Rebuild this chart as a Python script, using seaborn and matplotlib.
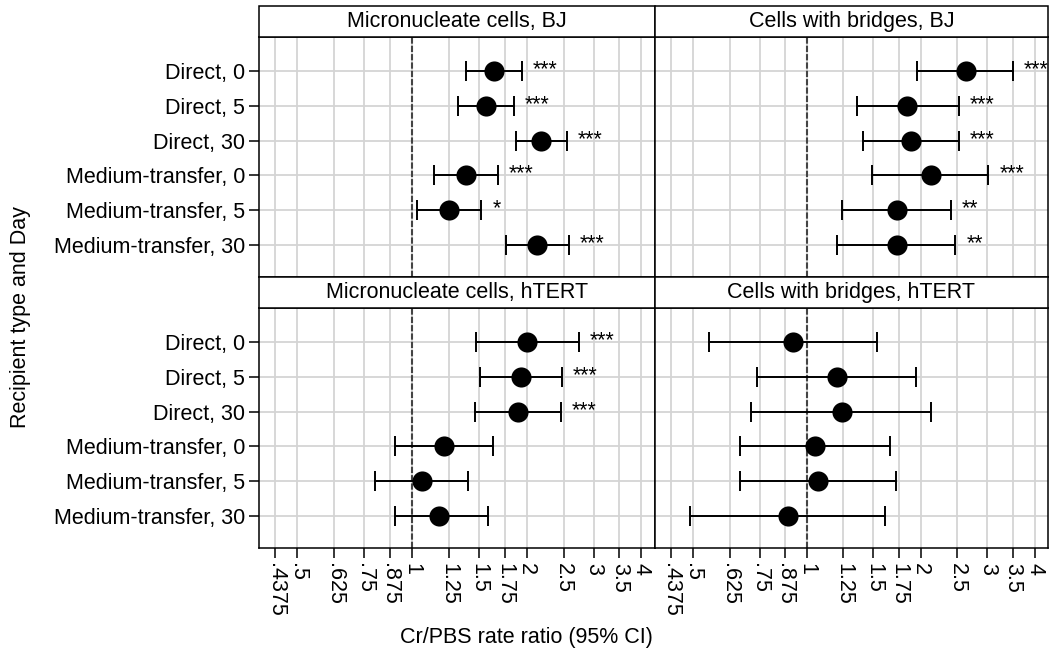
import numpy as np
import pandas as pd
import matplotlib
matplotlib.use("Agg")
import matplotlib.pyplot as plt
import seaborn as sns
from matplotlib.patches import Rectangle
from matplotlib.ticker import NullLocator

# rows of every panel, top to bottom
ROW_LABELS = ["Direct, 0", "Direct, 5", "Direct, 30",
              "Medium-transfer, 0", "Medium-transfer, 5", "Medium-transfer, 30"]
OUTCOMES = ["Micronucleate cells", "Cells with bridges"]
CELLS = ["BJ", "hTERT"]

# rate ratio, 95% CI and significance stars
mn_bj_rr = [1.64, 1.56, 2.18, 1.39, 1.25, 2.13]
mn_bj_lo = [1.39, 1.32, 1.88, 1.14, 1.03, 1.76]
mn_bj_hi = [1.94, 1.85, 2.55, 1.68, 1.52, 2.58]
mn_bj_sig = ["***", "***", "***", "***", "*", "***"]

br_bj_rr = [2.63, 1.84, 1.89, 2.13, 1.73, 1.73]
br_bj_lo = [1.96, 1.36, 1.41, 1.49, 1.24, 1.20]
br_bj_hi = [3.50, 2.52, 2.52, 3.02, 2.40, 2.47]
br_bj_sig = ["***", "***", "***", "***", "**", "**"]

mn_ht_rr = [2.00, 1.93, 1.90, 1.21, 1.06, 1.18]
mn_ht_lo = [1.47, 1.51, 1.46, 0.90, 0.80, 0.90]
mn_ht_hi = [2.74, 2.47, 2.46, 1.63, 1.40, 1.58]
mn_ht_sig = ["***", "***", "***", "", "", ""]

br_ht_rr = [0.92, 1.20, 1.24, 1.05, 1.07, 0.89]
br_ht_lo = [0.55, 0.74, 0.71, 0.665, 0.665, 0.49]
br_ht_hi = [1.53, 1.94, 2.13, 1.66, 1.72, 1.61]
br_ht_sig = ["", "", "", "", "", ""]

XTICKS = [0.4375, 0.5, 0.625, 0.75, 0.875, 1, 1.25, 1.5, 1.75, 2, 2.5, 3, 3.5, 4]
XTICK_LABELS = [".4375", ".5", ".625", ".75", ".875", "1", "1.25", "1.5",
                "1.75", "2", "2.5", "3", "3.5", "4"]

# build one long table
parts = []
for outcome, cell, rr, lo, hi, sig in [
        ("Micronucleate cells", "BJ", mn_bj_rr, mn_bj_lo, mn_bj_hi, mn_bj_sig),
        ("Cells with bridges", "BJ", br_bj_rr, br_bj_lo, br_bj_hi, br_bj_sig),
        ("Micronucleate cells", "hTERT", mn_ht_rr, mn_ht_lo, mn_ht_hi, mn_ht_sig),
        ("Cells with bridges", "hTERT", br_ht_rr, br_ht_lo, br_ht_hi, br_ht_sig)]:
    parts.append(pd.DataFrame({"outcome": outcome, "cell": cell, "label": ROW_LABELS,
                               "rr": rr, "lo": lo, "hi": hi, "sig": sig}))
df = pd.concat(parts, ignore_index=True)

sns.set_style("white")
plt.rcParams["font.family"] = ["Liberation Sans", "DejaVu Sans"]
plt.rcParams["text.color"] = "black"
plt.rcParams["xtick.color"] = "black"
plt.rcParams["ytick.color"] = "black"
plt.rcParams["axes.labelcolor"] = "black"
FS = 15.5


def draw(data, **kws):
    ax = plt.gca()
    pos = data["label"].map(ROW_LABELS.index).values
    rr = data["rr"].values
    ax.errorbar(rr, pos, xerr=[rr - data["lo"].values, data["hi"].values - rr],
                fmt="none", ecolor="black", elinewidth=1.4, capsize=7,
                capthick=1.4, zorder=3)
    sns.scatterplot(x=rr, y=pos, ax=ax, s=210, color="black", edgecolor="black",
                    linewidth=0, zorder=4, legend=False)
    for x, y, s in zip(data["hi"].values, pos, data["sig"].values):
        if s:
            ax.annotate(s, (x, y), xytext=(8, 1), textcoords="offset points",
                        ha="left", va="center", fontsize=FS, zorder=5)


g = sns.FacetGrid(df, row="cell", col="outcome", row_order=CELLS, col_order=OUTCOMES,
                  sharex=True, sharey=True, height=3, aspect=1.3)
g.map_dataframe(draw)
g.set_axis_labels("", "")
g.set_titles("")

fig = g.figure
fig.set_size_inches(10.53, 6.57)

positions = {(0, 0): [0.24596, 0.57839, 0.37607, 0.36530],
             (0, 1): [0.62203, 0.57839, 0.37322, 0.36530],
             (1, 0): [0.24596, 0.16591, 0.37607, 0.36530],
             (1, 1): [0.62203, 0.16591, 0.37322, 0.36530]}

# shared scales: set ticks once on the first axes
ax0 = g.axes[0, 0]
ax0.set_xscale("log")
ax0.set_xlim(0.397, 4.34)
ax0.set_xticks(XTICKS)
ax0.set_xticklabels(XTICK_LABELS)
ax0.xaxis.set_minor_locator(NullLocator())
ax0.set_ylim(5.92, -0.98)
ax0.set_yticks(range(len(ROW_LABELS)))
ax0.set_yticklabels(ROW_LABELS)

for (i, j), ax in np.ndenumerate(g.axes):
    ax.set_position(positions[(i, j)])
    ax.xaxis.set_minor_locator(NullLocator())
    ax.tick_params(axis="x", length=7 if i == 1 else 0, width=1.1, pad=4,
                   bottom=True, direction="out", labelbottom=(i == 1),
                   labelsize=FS, labelrotation=-90)
    ax.tick_params(axis="y", length=7 if j == 0 else 0, width=1.1, pad=3,
                   left=True, direction="out", labelleft=(j == 0), labelsize=FS)
    for lab in ax.get_xticklabels():
        lab.set_ha("center")
        lab.set_va("top")
    ax.grid(True, color="#d4d4d4", linewidth=1.3)
    ax.set_axisbelow(True)
    ax.axvline(1, color="#444444", linestyle=(0, (3, 1)), linewidth=1.5, zorder=2)
    for sp in ax.spines.values():
        sp.set_visible(True)
        sp.set_color("black")
        sp.set_linewidth(1.1)
    # title strip above each panel
    strip_h = 31 / 240
    ax.add_patch(Rectangle((0, 1), 1, strip_h, transform=ax.transAxes,
                           facecolor="white", edgecolor="black", linewidth=1.1,
                           clip_on=False, zorder=6))
    ax.text(0.5, 1 + strip_h / 2, f"{OUTCOMES[j]}, {CELLS[i]}", transform=ax.transAxes,
            ha="center", va="center", fontsize=FS, zorder=7)

fig.text(0.5, 0.030, "Cr/PBS rate ratio (95% CI)", ha="center", va="center", fontsize=FS)
fig.text(0.019, 0.5175, "Recipient type and Day", ha="center", va="center",
         rotation=90, fontsize=FS)

fig.savefig("out.png", dpi=100)
